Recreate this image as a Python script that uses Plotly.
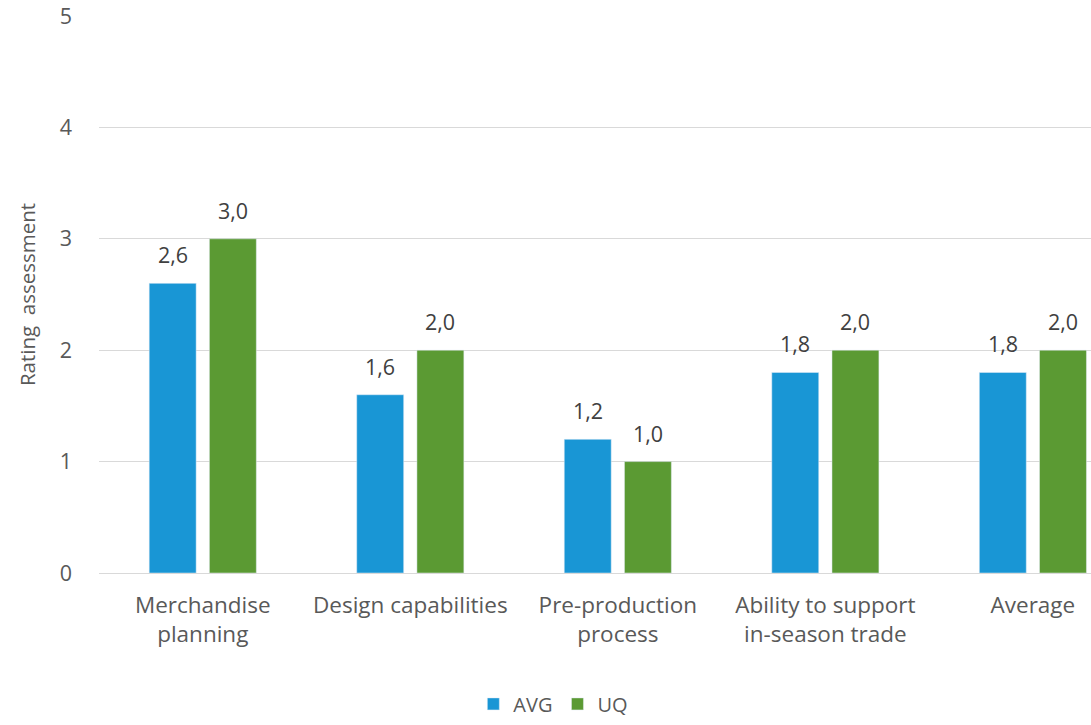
import plotly.graph_objects as go

categories = ["Merchandise<br>planning", "Design capabilities", "Pre-production<br>process",
              "Ability to support<br>in-season trade", "Average"]
avg_values = [2.6, 1.6, 1.2, 1.8, 1.8]
uq_values = [3.0, 2.0, 1.0, 2.0, 2.0]

FONT = "Open Sans"
GREY = "#595959"
LABEL = "#404040"

fig = go.Figure()
fig.add_trace(go.Bar(name="AVG", x=categories, y=avg_values, marker_color="#1996D5"))
fig.add_trace(go.Bar(name="UQ", x=categories, y=uq_values, marker_color="#5B9A33"))


def fmt(v):
    # decimal comma, one digit
    return f"{v:.1f}".replace(".", ",")


# value labels above each bar, offset to the bar's slot within the group
for values, shift in ((avg_values, -30), (uq_values, 30)):
    for cat, v in zip(categories, values):
        fig.add_annotation(
            x=cat, y=v, text=fmt(v), showarrow=False,
            xshift=shift, yshift=12, yanchor="bottom", xanchor="center",
            font=dict(size=21.5, color=LABEL, family=FONT),
        )

fig.update_layout(
    width=1091, height=725,
    barmode="group", bargap=0.42, bargroupgap=0.22,
    plot_bgcolor="white", paper_bgcolor="white",
    margin=dict(l=99, r=0, t=16, b=152),
    font=dict(family=FONT, color=GREY, size=21),
    showlegend=True,
    legend=dict(orientation="h", x=0.458, xanchor="center", y=-0.235, yanchor="middle",
                font=dict(size=20, color=GREY), itemwidth=30, traceorder="normal"),
    xaxis=dict(range=[-0.5, 4.28], showgrid=False, showline=False, ticks="",
               ticklabelstandoff=16,
               tickfont=dict(size=22.5, color=GREY, family=FONT)),
    yaxis=dict(range=[0, 5], dtick=1, showgrid=True, gridcolor="#D9D9D9", gridwidth=1.3,
               zeroline=True, zerolinecolor="#D9D9D9", zerolinewidth=1.3,
               ticks="", ticklabelstandoff=26,
               tickfont=dict(size=21.5, color=GREY, family=FONT),
               title=dict(text="Rating  assessment", font=dict(size=20.5, color=GREY, family=FONT),
                          standoff=18)),
)

fig.write_html("out.html")
